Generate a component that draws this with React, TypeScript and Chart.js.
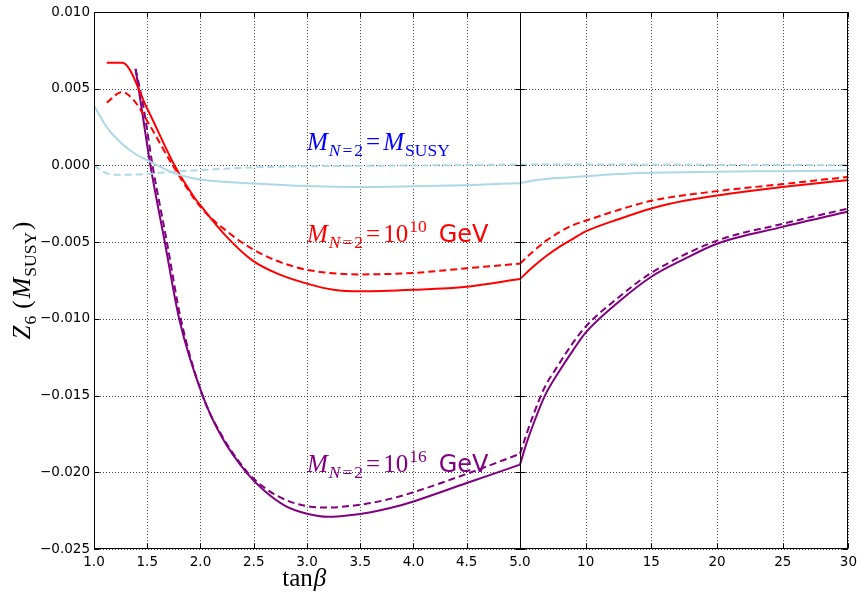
import React, { useEffect, useRef } from 'react';
import { Chart, registerables } from 'chart.js';

Chart.register(...registerables);

// ---- data (tanβ, Z6) ----
const SPLIT_TANB = 5;
const RIGHT_END_TANB = 30;

const susySolidLeft: number[][] = [[1.0,0.0039],[1.13,0.0024],[1.26,0.00144],[1.4,0.0007],[1.5,0.00035],[1.75,-0.0005],[2.0,-0.00092],[2.5,-0.00117],[3.0,-0.00134],[3.5,-0.0014],[4.0,-0.00135],[4.5,-0.00128],[5.0,-0.00115]];
const susySolidRight: number[][] = [[5,-0.00115],[6,-0.00098],[7,-0.00088],[8.6,-0.00078],[10,-0.0007],[12.5,-0.00056],[15,-0.00048],[20,-0.0004],[25,-0.00037],[30,-0.00032]];
const susyDashLeft: number[][] = [[1.0,0.0],[1.1,-0.00045],[1.2,-0.0006],[1.35,-0.0006],[1.5,-0.00055],[1.75,-0.0004],[2.0,-0.0003],[2.5,-0.00012],[3.0,-0.00005],[4.0,0.0],[5.0,0.00006]];
const susyDashRight: number[][] = [[5,0.00006],[10,0.00007],[15,0.00005],[20,0.00004],[25,0.00003],[30,0.00002]];

const e10SolidLeft: number[][] = [[1.12,0.0067],[1.265,0.0067],[1.5,0.0037],[1.757,0.0],[1.944,-0.0021],[2.0,-0.0026],[2.24,-0.0046],[2.49,-0.0062],[2.74,-0.0071],[3.0,-0.0077],[3.25,-0.0081],[3.5,-0.0082],[4.0,-0.0081],[4.5,-0.0079],[5.0,-0.0074]];
const e10SolidRight: number[][] = [[5,-0.0074],[6,-0.0066],[7,-0.0059],[8,-0.0053],[9,-0.0048],[10,-0.0043],[12.5,-0.0035],[15,-0.0028],[17.5,-0.0023],[20,-0.00195],[25,-0.0014],[30,-0.00095]];
const e10DashLeft: number[][] = [[1.12,0.0041],[1.265,0.0048],[1.38,0.0042],[1.5,0.0029],[1.74,0.0],[2.0,-0.0027],[2.25,-0.0043],[2.5,-0.0055],[2.75,-0.0063],[3.0,-0.0068],[3.5,-0.0071],[4.0,-0.007],[4.5,-0.0067],[5.0,-0.0064]];
const e10DashRight: number[][] = [[5,-0.0064],[6,-0.0056],[7,-0.0049],[8,-0.00435],[9,-0.0039],[10,-0.0036],[12.5,-0.0029],[15,-0.0023],[20,-0.00167],[25,-0.00121],[30,-0.00074]];

const e16SolidLeft: number[][] = [[1.39,0.0063],[1.45,0.0036],[1.53,0.0],[1.665,-0.005],[1.80,-0.010],[2.02,-0.015],[2.2,-0.0177],[2.43,-0.02],[2.6,-0.0212],[2.8,-0.0222],[3.0,-0.0227],[3.2,-0.0229],[3.4,-0.0228],[3.6,-0.0226],[3.8,-0.0223],[4.0,-0.0219],[4.5,-0.0207],[5.0,-0.0195]];
const e16SolidRight: number[][] = [[5,-0.0195],[5.5,-0.0181],[6,-0.0169],[6.9,-0.015],[8,-0.0134],[9,-0.0121],[10,-0.0109],[12.5,-0.0089],[15,-0.00725],[17.5,-0.0061],[20,-0.0051],[25,-0.004],[30,-0.003]];
const e16DashLeft: number[][] = [[1.39,0.0063],[1.46,0.004],[1.55,0.0],[1.685,-0.005],[1.815,-0.010],[2.02,-0.015],[2.2,-0.0176],[2.43,-0.0199],[2.6,-0.021],[2.8,-0.0218],[3.0,-0.0222],[3.2,-0.0223],[3.4,-0.0222],[3.6,-0.022],[3.8,-0.0217],[4.0,-0.0213],[4.5,-0.0201],[5.0,-0.0188]];
const e16DashRight: number[][] = [[5,-0.0188],[5.5,-0.0175],[6,-0.0163],[6.8,-0.0146],[8,-0.0129],[9,-0.0116],[10,-0.0105],[12.5,-0.0086],[15,-0.007],[20,-0.0049],[25,-0.0038],[30,-0.0028]];

const xTickValues = [1.0,1.5,2.0,2.5,3.0,3.5,4.0,4.5,5.0,10,15,20,25,30];
const xTickLabels = ['1.0','1.5','2.0','2.5','3.0','3.5','4.0','4.5','5.0','10','15','20','25','30'];
const yTickValues = [-0.025,-0.020,-0.015,-0.010,-0.005,0.0,0.005,0.010];

const labelTanb = [3.0, 3.0, 3.0];
const labelZ = [0.001, -0.005, -0.020];

// right panel (5..30) occupies this many left-panel units of width
const RIGHT_WIDTH_UNITS = 330 / 107;
const u = (t: number) => t <= SPLIT_TANB ? t : SPLIT_TANB + (t - SPLIT_TANB) * RIGHT_WIDTH_UNITS / (RIGHT_END_TANB - SPLIT_TANB);
const toXY = (arr: number[][]) => arr.map(([t, z]) => ({ x: u(t), y: z }));

const RED = '#ff0000';
const PURPLE = '#800080';
const LBLUE = '#add8e6';

type Seg = { t: string; f: string; dy?: number; gap?: number };
const MI = 'italic 25px "Liberation Serif"';
const RM = '25px "Liberation Serif"';
const SMI = 'italic 17.5px "Liberation Serif"';
const SRM = '17.5px "Liberation Serif"';
const SANS = '24px "DejaVu Sans"';

function segWidth(ctx: CanvasRenderingContext2D, segs: Seg[]) {
  let w = 0;
  for (const s of segs) { ctx.font = s.f; w += (s.gap || 0) + ctx.measureText(s.t).width; }
  return w;
}
function drawRich(ctx: CanvasRenderingContext2D, x: number, y: number, segs: Seg[], color: string, center = false) {
  ctx.fillStyle = color;
  ctx.textBaseline = 'alphabetic';
  ctx.textAlign = 'left';
  let cx = center ? x - segWidth(ctx, segs) / 2 : x;
  for (const s of segs) {
    ctx.font = s.f;
    cx += s.gap || 0;
    ctx.fillText(s.t, cx, y + (s.dy || 0));
    cx += ctx.measureText(s.t).width;
  }
}

const mN2: Seg[] = [
  { t: 'M', f: MI },
  { t: 'N', f: SMI, dy: 6, gap: 1 },
  { t: '=', f: SRM, dy: 6, gap: 2 },
  { t: '2', f: SRM, dy: 6, gap: 2 },
  { t: '=', f: RM, gap: 3 },
];
const curveLabels: { segs: Seg[]; color: string }[] = [
  { segs: [...mN2, { t: 'M', f: MI, gap: 3 }, { t: 'SUSY', f: SRM, dy: 6, gap: 1 }], color: '#0000ff' },
  { segs: [...mN2, { t: '10', f: RM, gap: 3 }, { t: '10', f: SRM, dy: -10, gap: 1 }, { t: 'GeV', f: SANS, gap: 12 }], color: RED },
  { segs: [...mN2, { t: '10', f: RM, gap: 3 }, { t: '16', f: SRM, dy: -10, gap: 1 }, { t: 'GeV', f: SANS, gap: 12 }], color: PURPLE },
];

const framePlugin = {
  id: 'frame',
  beforeDatasetsDraw(chart: any) {
    const { ctx, chartArea: a, scales } = chart;
    const x = scales.x, y = scales.y;
    ctx.save();
    ctx.strokeStyle = 'rgba(0,0,0,0.75)';
    ctx.lineWidth = 1;
    ctx.setLineDash([1, 2]);
    for (const t of xTickValues) {
      const px = Math.round(x.getPixelForValue(u(t))) + 0.5;
      ctx.beginPath(); ctx.moveTo(px, a.top); ctx.lineTo(px, a.bottom); ctx.stroke();
    }
    for (const v of yTickValues) {
      const py = Math.round(y.getPixelForValue(v)) + 0.5;
      ctx.beginPath(); ctx.moveTo(a.left, py); ctx.lineTo(a.right, py); ctx.stroke();
    }
    ctx.restore();
  },
  afterDatasetsDraw(chart: any) {
    const { ctx, chartArea: a, scales } = chart;
    const x = scales.x, y = scales.y;
    ctx.save();
    ctx.strokeStyle = '#000';
    ctx.lineWidth = 1;
    ctx.setLineDash([]);
    const L = Math.round(a.left) + 0.5, R = Math.round(a.right) - 0.5;
    const T = Math.round(a.top) + 0.5, B = Math.round(a.bottom) - 0.5;
    const S = Math.round(x.getPixelForValue(u(SPLIT_TANB))) + 0.5;
    ctx.strokeRect(L, T, R - L, B - T);
    ctx.beginPath(); ctx.moveTo(S, T); ctx.lineTo(S, B); ctx.stroke();
    const tl = 5;
    ctx.beginPath();
    for (const t of xTickValues) {
      const px = Math.round(x.getPixelForValue(u(t))) + 0.5;
      ctx.moveTo(px, B); ctx.lineTo(px, B - tl);
      ctx.moveTo(px, T); ctx.lineTo(px, T + tl);
    }
    for (const v of yTickValues) {
      const py = Math.round(y.getPixelForValue(v)) + 0.5;
      ctx.moveTo(L, py); ctx.lineTo(L + tl, py);
      ctx.moveTo(R, py); ctx.lineTo(R - tl, py);
      ctx.moveTo(S - tl, py); ctx.lineTo(S + tl, py);
    }
    ctx.stroke();

    // curve labels
    curveLabels.forEach((lab, i) => {
      drawRich(ctx, x.getPixelForValue(u(labelTanb[i])), y.getPixelForValue(labelZ[i]), lab.segs, lab.color);
    });

    // axis titles
    const xc = (a.left + S) / 2 - 3;
    drawRich(ctx, xc, a.bottom + 37, [{ t: 'tan', f: RM }, { t: 'β', f: MI, gap: 1 }], '#000', true);
    ctx.save();
    ctx.translate(30, (a.top + a.bottom) / 2);
    ctx.rotate(-Math.PI / 2);
    drawRich(ctx, 0, 0, [
      { t: 'Z', f: MI }, { t: '6', f: SRM, dy: 6, gap: 1 },
      { t: '(', f: RM, gap: 7 }, { t: 'M', f: MI, gap: 2 },
      { t: 'SUSY', f: SRM, dy: 6, gap: 1 }, { t: ')', f: RM, gap: 2 },
    ], '#000', true);
    ctx.restore();
    ctx.restore();
  },
};

function ds(data: number[][], color: string, dashed: boolean) {
  return {
    data: toXY(data),
    borderColor: color,
    borderWidth: 2,
    borderDash: dashed ? [7, 4] : [],
    pointRadius: 0,
    fill: false,
    cubicInterpolationMode: 'monotone' as const,
  };
}

export default function App() {
  const ref = useRef<HTMLCanvasElement>(null);
  useEffect(() => {
    if (!ref.current) return;
    const chart = new Chart(ref.current, {
      type: 'line',
      data: {
        datasets: [
          ds(susySolidLeft, LBLUE, false), ds(susySolidRight, LBLUE, false),
          ds(susyDashLeft, LBLUE, true), ds(susyDashRight, LBLUE, true),
          ds(e10SolidLeft, RED, false), ds(e10SolidRight, RED, false),
          ds(e10DashLeft, RED, true), ds(e10DashRight, RED, true),
          ds(e16SolidLeft, PURPLE, false), ds(e16SolidRight, PURPLE, false),
          ds(e16DashLeft, PURPLE, true), ds(e16DashRight, PURPLE, true),
        ] as any,
      },
      options: {
        animation: false,
        responsive: true,
        maintainAspectRatio: false,
        layout: { padding: { left: 0, top: 12, right: 11, bottom: 0 } },
        plugins: { legend: { display: false }, tooltip: { enabled: false } },
        scales: {
          x: {
            type: 'linear',
            min: u(1),
            max: u(RIGHT_END_TANB),
            grid: { display: false, drawTicks: false },
            border: { display: false },
            afterBuildTicks: (s: any) => { s.ticks = xTickValues.map(t => ({ value: u(t) })); },
            afterFit: (s: any) => { s.height = 51; },
            ticks: {
              autoSkip: false,
              maxRotation: 0,
              padding: 5,
              color: '#000',
              font: { family: 'DejaVu Sans', size: 13.5 },
              callback: (_v: any, i: number) => xTickLabels[i],
            },
          },
          y: {
            type: 'linear',
            min: -0.025,
            max: 0.010,
            grid: { display: false, drawTicks: false },
            border: { display: false },
            afterBuildTicks: (s: any) => { s.ticks = yTickValues.map(v => ({ value: v })); },
            afterFit: (s: any) => { s.width = 94; },
            ticks: {
              padding: 4,
              color: '#000',
              font: { family: 'DejaVu Sans', size: 13.5 },
              callback: (v: any) => (v < -1e-9 ? '\u2212' : '') + Math.abs(Number(v)).toFixed(3),
            },
          },
        },
      },
      plugins: [framePlugin],
    });
    return () => chart.destroy();
  }, []);
  return (
    <div style={{ position: 'fixed', left: 0, top: 0, width: 862, height: 600, background: '#fff' }}>
      <canvas ref={ref} />
    </div>
  );
}
